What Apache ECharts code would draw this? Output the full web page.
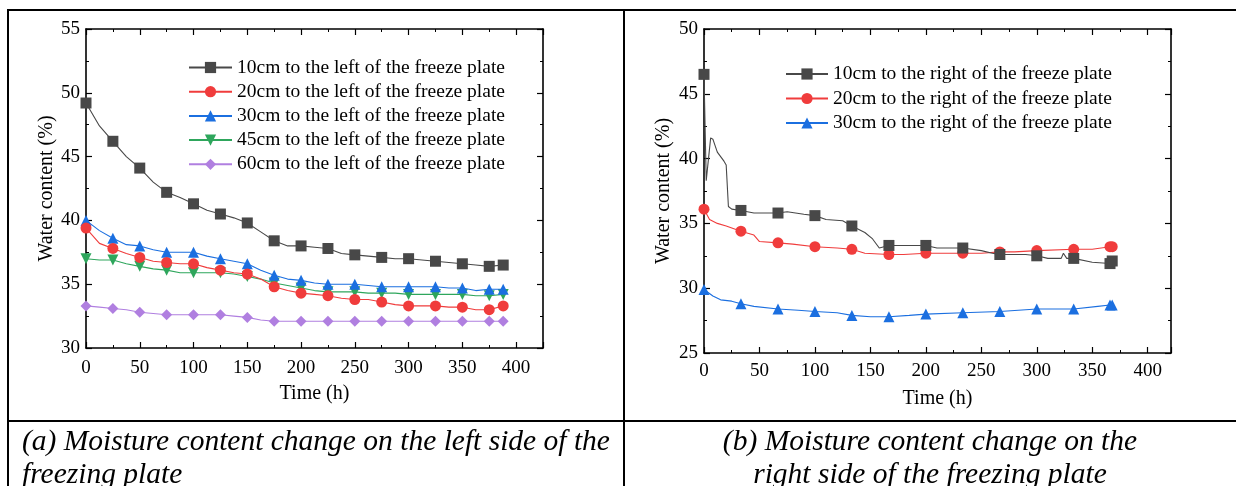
<!DOCTYPE html>
<html><head><meta charset="utf-8">
<script src="https://cdn.jsdelivr.net/npm/echarts@6/dist/echarts.min.js"></script>
<style>html,body{margin:0;padding:0;background:#fff}#c{width:1236px;height:486px}</style>
</head><body><div id="c"></div>
<script>
// ---- Left chart (a) data ----
const leftNames = ['10cm to the left of the freeze plate','20cm to the left of the freeze plate','30cm to the left of the freeze plate','45cm to the left of the freeze plate','60cm to the left of the freeze plate'];
const leftTime = [0,12.5,25,37.5,50,62.5,75,87.5,100,112.5,125,137.5,150,162.5,175,187.5,200,212.5,225,237.5,250,262.5,275,287.5,300,312.5,325,337.5,350,362.5,375,388];
const leftMarkerTimes = [0,25,50,75,100,125,150,175,200,225,250,275,300,325,350,375,388];
const left10 = [49.2,47.4,46.2,45.0,44.1,43.0,42.2,41.8,41.3,40.8,40.5,40.2,39.8,39.1,38.4,38.0,38.0,37.9,37.8,37.4,37.3,37.2,37.1,37.0,37.0,36.9,36.8,36.7,36.6,36.5,36.4,36.5];
const left20 = [39.4,38.2,37.8,37.4,37.1,36.8,36.7,36.6,36.6,36.3,36.1,35.9,35.8,35.4,34.8,34.5,34.3,34.2,34.1,33.9,33.8,33.8,33.6,33.4,33.3,33.3,33.3,33.2,33.2,33.0,33.0,33.3];
const left30 = [40.0,39.2,38.6,38.1,38.0,37.7,37.5,37.5,37.5,37.2,37.0,36.8,36.6,36.1,35.7,35.4,35.3,35.1,35.0,35.0,35.0,34.9,34.8,34.8,34.8,34.8,34.8,34.7,34.7,34.5,34.6,34.6];
const left45 = [37.0,36.9,36.9,36.6,36.4,36.2,36.1,35.9,35.9,35.9,35.9,35.8,35.6,35.4,35.1,34.9,34.7,34.5,34.4,34.4,34.4,34.3,34.3,34.3,34.2,34.2,34.2,34.2,34.2,34.1,34.1,34.2];
const left60 = [33.3,33.2,33.1,33.0,32.8,32.7,32.6,32.6,32.6,32.6,32.6,32.5,32.4,32.2,32.1,32.1,32.1,32.1,32.1,32.1,32.1,32.1,32.1,32.1,32.1,32.1,32.1,32.1,32.1,32.1,32.1,32.1];

// ---- Right chart (b) data ----
const rightNames = ['10cm to the right of the freeze plate','20cm to the right of the freeze plate','30cm to the right of the freeze plate'];
const rightMarkerTimes = [0,33.3,66.7,100,133.3,166.7,200,233.3,266.7,300,333.3,366,368];
const right10Time = [0,2,6,8,12,18,20,22,25,33.3,45,66.7,75,90,100,110,125,133.3,145,152,158,166.7,200,210,233.3,250,260,266.7,290,300,310,322,324,327,333.3,350,366,368];
const right10 = [46.5,38.3,41.6,41.5,40.5,39.8,39.5,36.3,36.1,36.0,35.8,35.8,35.9,35.7,35.6,35.3,35.2,34.8,34.3,33.8,33.1,33.3,33.3,33.1,33.1,32.9,32.7,32.6,32.6,32.5,32.3,32.3,32.7,32.3,32.3,32.0,31.9,32.1];
const right20Time = [0,5,12,20,33.3,45,50,66.7,80,100,120,133.3,145,166.7,180,200,233.3,250,266.7,280,300,333.3,350,366,368];
const right20 = [36.1,35.3,35.0,34.8,34.4,34.1,33.6,33.5,33.4,33.2,33.1,33.0,32.7,32.6,32.6,32.7,32.7,32.7,32.8,32.8,32.9,33.0,33.0,33.2,33.2];
const right30Time = [0,8,15,25,33.3,45,66.7,85,100,120,133.3,150,166.7,185,200,233.3,266.7,300,333.3,355,366,368];
const right30 = [29.9,29.4,29.1,29.0,28.8,28.6,28.4,28.3,28.2,28.1,27.9,27.8,27.8,27.9,28.0,28.1,28.2,28.4,28.4,28.6,28.7,28.7];

const xTicks = [0,50,100,150,200,250,300,350,400];

const FONT = '"Liberation Serif", "Times New Roman", serif';
const colors = ['#484848','#f03c3c','#1b6fe0','#2ea65c','#b07fe0'];
const symbols = ['rect','circle','triangle','triangle','diamond'];
const rotates = [0,0,0,180,0];

function build(times, vals, markers) {
  return times.map((t, i) => ({
    value: [t, vals[i]],
    symbolSize: markers.some(m => Math.abs(m - t) < 0.01) ? 11 : 0
  }));
}

const chart = echarts.init(document.getElementById('c'), null, {renderer: 'canvas'});

function axisX(gridIndex, pos, show, max, margin) {
  return {
    type: 'value', gridIndex, position: pos, min: 0, max, interval: 50,
    axisLine: {show: true, onZero: false, lineStyle: {color: '#000', width: 1.6}},
    axisTick: {show: true, inside: true, length: 6, lineStyle: {color: '#000', width: 1.2}},
    minorTick: {show: true, splitNumber: 2, length: 3, lineStyle: {color: '#000', width: 1}},
    axisLabel: {show, color: '#000', fontFamily: FONT, fontSize: 19, margin,
      formatter: v => xTicks.includes(v) ? String(v) : ''},
    splitLine: {show: false},
    name: show ? 'Time (h)' : '', nameLocation: 'middle', nameGap: 36,
    nameTextStyle: {color: '#000', fontFamily: FONT, fontSize: 20}
  };
}
function axisY(gridIndex, pos, show, min, max, gap) {
  return {
    type: 'value', gridIndex, position: pos, min, max, interval: 5,
    axisLine: {show: true, onZero: false, lineStyle: {color: '#000', width: 1.6}},
    axisTick: {show: true, inside: true, length: 6, lineStyle: {color: '#000', width: 1.2}},
    minorTick: {show: true, splitNumber: 2, length: 3, lineStyle: {color: '#000', width: 1}},
    axisLabel: {show, color: '#000', fontFamily: FONT, fontSize: 19, margin: 6},
    splitLine: {show: false},
    name: show ? 'Water content (%)' : '', nameLocation: 'middle', nameGap: gap, nameRotate: 90,
    nameTextStyle: {color: '#000', fontFamily: FONT, fontSize: 20}
  };
}

const leftVals = [left10, left20, left30, left45, left60];
const rightData = [[right10Time, right10], [right20Time, right20], [right30Time, right30]];

const series = [];
leftVals.forEach((v, i) => {
  series.push({
    type: 'line', name: leftNames[i], xAxisIndex: 0, yAxisIndex: 0,
    data: build(leftTime, v, leftMarkerTimes),
    symbol: symbols[i], symbolRotate: rotates[i], showAllSymbol: true,
    color: colors[i], lineStyle: {width: 1.1, color: colors[i]},
    itemStyle: {color: colors[i]}, animation: false, z: 10 - i
  });
});
rightData.forEach((d, i) => {
  series.push({
    type: 'line', name: rightNames[i], xAxisIndex: 2, yAxisIndex: 2,
    data: build(d[0], d[1], rightMarkerTimes),
    symbol: symbols[i], symbolRotate: rotates[i], showAllSymbol: true,
    color: colors[i], lineStyle: {width: 1.1, color: colors[i]},
    itemStyle: {color: colors[i]}, animation: false, z: 10 - i
  });
});

const legendText = {color: '#000', fontFamily: FONT, fontSize: 19.5};

chart.setOption({
  backgroundColor: '#fff',
  animation: false,
  grid: [
    {left: 86, top: 29, width: 457, height: 319},
    {left: 704, top: 29, width: 467, height: 324}
  ],
  xAxis: [
    axisX(0, 'bottom', true, 425, 11), axisX(0, 'top', false, 425, 11),
    axisX(1, 'bottom', true, 421, 9), axisX(1, 'top', false, 421, 9)
  ],
  yAxis: [
    axisY(0, 'left', true, 30, 55, 29), axisY(0, 'right', false, 30, 55, 29),
    axisY(1, 'left', true, 25, 50, 30), axisY(1, 'right', false, 25, 50, 30)
  ],
  legend: [
    {data: leftNames, orient: 'vertical', left: 183, top: 52.5, itemWidth: 43, itemHeight: 14, itemGap: 4.2,
     textStyle: legendText, selectedMode: false},
    {data: rightNames, orient: 'vertical', left: 780, top: 59, itemWidth: 42, itemHeight: 14, itemGap: 4.5,
     textStyle: legendText, selectedMode: false}
  ],
  series,
  graphic: [
    {type: 'line', shape: {x1: 7, y1: 10, x2: 1236, y2: 10}, style: {stroke: '#000', lineWidth: 2}},
    {type: 'line', shape: {x1: 8, y1: 10, x2: 8, y2: 486}, style: {stroke: '#000', lineWidth: 2}},
    {type: 'line', shape: {x1: 624, y1: 10, x2: 624, y2: 486}, style: {stroke: '#000', lineWidth: 2}},
    {type: 'line', shape: {x1: 7, y1: 421, x2: 1236, y2: 421}, style: {stroke: '#000', lineWidth: 2}},
    {type: 'text', left: 22, top: 427, style: {text: '(a) Moisture content change on the left side of the', fill: '#000', font: 'italic 29.5px ' + FONT}},
    {type: 'text', left: 22, top: 460, style: {text: 'freezing plate', fill: '#000', font: 'italic 29.5px ' + FONT}},
    {type: 'text', x: 930, y: 427, style: {text: '(b) Moisture content change on the', fill: '#000', font: 'italic 29.5px ' + FONT, align: 'center'}},
    {type: 'text', x: 930, y: 460, style: {text: 'right side of the freezing plate', fill: '#000', font: 'italic 29.5px ' + FONT, align: 'center'}}
  ]
});
</script></body></html>
